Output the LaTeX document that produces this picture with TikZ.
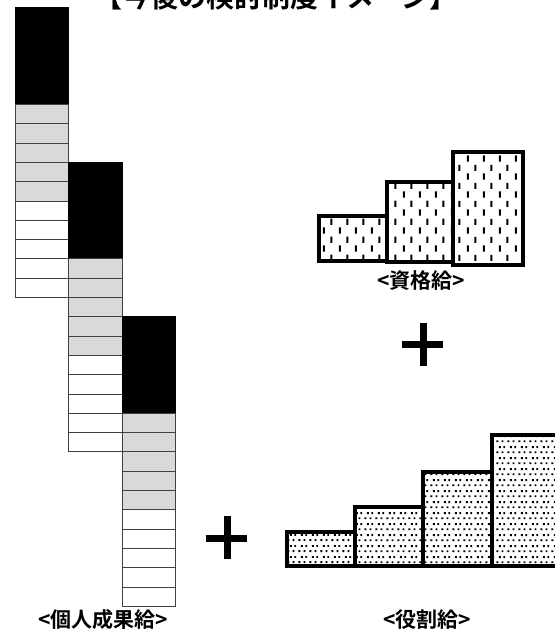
\documentclass[tikz,border=0pt]{standalone}
\usepackage{fontspec}
\newfontfamily\jpfont{Noto Sans CJK JP}[BoldFont={Noto Sans CJK JP Bold}]
\usetikzlibrary{patterns}

\definecolor{cellgray}{gray}{0.85}

\pgfdeclarepatternformonly{vdashes}{\pgfpoint{0pt}{0pt}}{\pgfpoint{16pt}{18pt}}{\pgfpoint{16pt}{18pt}}{%
  \pgfsetlinewidth{2pt}%
  \pgfpathmoveto{\pgfpoint{4pt}{1.5pt}}\pgfpathlineto{\pgfpoint{4pt}{8pt}}%
  \pgfpathmoveto{\pgfpoint{12pt}{10.5pt}}\pgfpathlineto{\pgfpoint{12pt}{17pt}}%
  \pgfusepath{stroke}}
\pgfdeclarepatternformonly{fdots}{\pgfpoint{0pt}{0pt}}{\pgfpoint{11pt}{11pt}}{\pgfpoint{11pt}{11pt}}{%
  \pgfpathrectangle{\pgfpoint{1.5pt}{2pt}}{\pgfpoint{2pt}{2pt}}%
  \pgfpathrectangle{\pgfpoint{7pt}{2pt}}{\pgfpoint{2pt}{2pt}}%
  \pgfpathrectangle{\pgfpoint{4.25pt}{7.5pt}}{\pgfpoint{2pt}{2pt}}%
  \pgfpathrectangle{\pgfpoint{9pt}{7.5pt}}{\pgfpoint{2pt}{2pt}}%
  \pgfusepath{fill}}

\begin{document}
\begin{tikzpicture}[x=1pt, y=-1pt,
      cell/.style={draw=black!75, line width=1pt},
      stepbar/.style={draw, line width=4pt},
      plusbar/.style={line width=7pt},
      lbl/.style={font=\jpfont\bfseries\fontsize{21}{23}\selectfont}
    ]
    \useasboundingbox (0,0) rectangle (554,631);
    \node[font=\jpfont\bfseries\fontsize{28}{30}\selectfont, anchor=base] (title) at (276,8) {【今後の検討制度イメージ】};

    % individual performance pay: three staggered columns
    \foreach \cx/\cy in {15/8, 68.5/162.4, 122/316.8}
      \foreach \band/\cc/\lc in {0/black/black, 1/cellgray/black!75, 2/white/black!75}
        \foreach \j in {0,...,4}
          \draw[cell, fill=\cc, draw=\lc] (\cx, {\cy+(5*\band+\j)*19.3}) rectangle ++(53.5,19.3);
    \node[lbl] (kojin) at (103,620) {<個人成果給>};

    % qualification pay
    \draw[stepbar, pattern=vdashes] (319,216) rectangle (387,261);
    \draw[stepbar, pattern=vdashes] (387,182) rectangle (453,262);
    \draw[stepbar, pattern=vdashes] (453,152) rectangle (523,265);
    \node[lbl] (shikaku) at (421,281) {<資格給>};

    % role pay
    \draw[stepbar, pattern=fdots] (287,532) rectangle (355,566);
    \draw[stepbar, pattern=fdots] (355,507) rectangle (423,566);
    \draw[stepbar, pattern=fdots] (423,472) rectangle (492,566);
    \draw[stepbar, pattern=fdots] (492,435) rectangle (562,566);
    \node[lbl] (yakuwari) at (427,620) {<役割給>};

    \draw[plusbar] (206,538) -- (247,538) (227,516) -- (227,559);
    \draw[plusbar] (402,344) -- (443,344) (423,323) -- (423,366);
  \end{tikzpicture}
\end{document}
